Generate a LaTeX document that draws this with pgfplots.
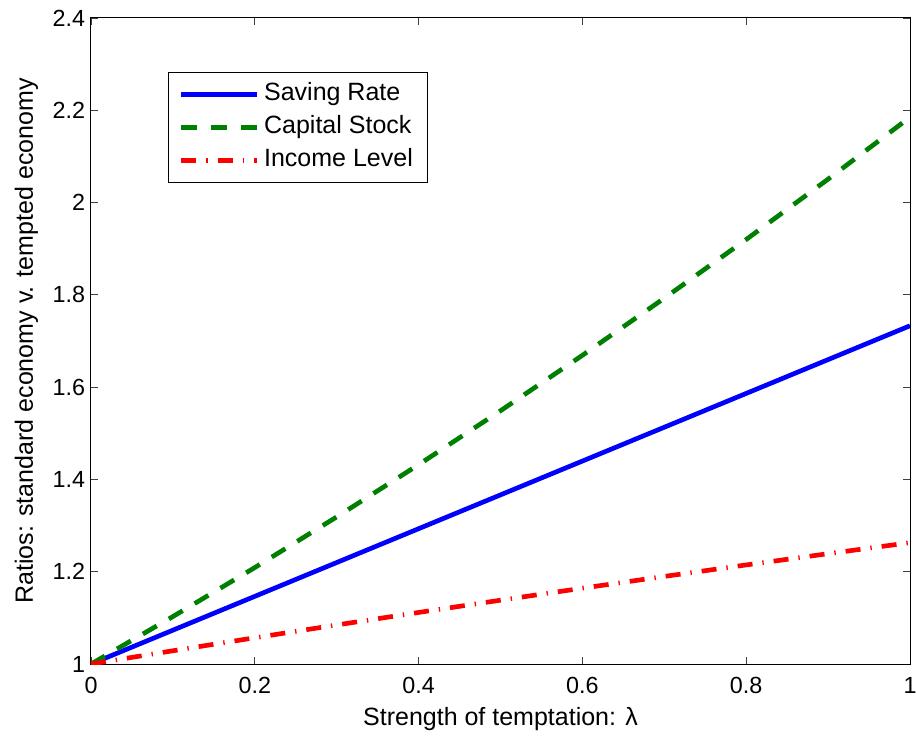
\documentclass[border=0pt]{standalone}
\usepackage{fontspec}
\setmainfont{Liberation Sans}
\usepackage{pgfplots}
\pgfplotsset{compat=1.18}
\definecolor{mblue}{RGB}{0,0,255}
\definecolor{mgreen}{RGB}{0,128,0}
\definecolor{mred}{RGB}{255,0,0}

\begin{document}
\begin{tikzpicture}
  \begin{axis}[
      scale only axis,
      width=491.4pt,
      height=387.6pt,
      xmin=0, xmax=1,
      ymin=1, ymax=2.4,
      xtick={0,0.2,0.4,0.6,0.8,1},
      ytick={1,1.2,1.4,1.6,1.8,2,2.2,2.4},
      tick align=inside,
      major tick length=4.2pt,
      tick style={black!75, line width=0.5pt},
      axis line style={black, line width=0.6pt},
      /pgf/number format/assume math mode=true,
      ticklabel style={font=\fontsize{14}{16.8}\selectfont},
      xticklabel style={yshift=-4.5pt},
      xlabel={Strength of temptation: λ},
      ylabel={Ratios: standard economy v. tempted economy},
      label style={font=\fontsize{15}{18}\selectfont},
      xlabel style={at={(axis description cs:0.5,0)}, anchor=base, yshift=-36.6pt},
      ylabel style={at={(axis description cs:0,0.5)}, anchor=base, yshift=34.8pt},
      legend style={
        at={(0.094,0.916)}, anchor=north west,
        draw=black, line width=0.6pt,
        font=\fontsize{15}{18}\selectfont,
        row sep=3.8pt,
        inner xsep=6.3pt, inner ysep=5pt,
        nodes={inner xsep=2.7pt, inner ysep=1pt, text height=10.8pt, text depth=3.2pt},
        cells={anchor=west},
      },
      legend image code/.code={
        \draw[#1] (0pt,0pt) -- (45.6pt,0pt);
      },
    ]
    \addplot[mblue, line width=2.8pt] coordinates {
      (0,1.0000) (0.1,1.0733) (0.2,1.1466) (0.3,1.2199) (0.4,1.2932)
      (0.5,1.3665) (0.6,1.4398) (0.7,1.5131) (0.8,1.5864) (0.9,1.6597)
      (1,1.7330)};
    \addlegendentry{Saving Rate}
    \addplot[mgreen, line width=2.8pt, dash pattern=on 9.6pt off 8.4pt] coordinates {
      (0,1.0000) (0.1,1.1028) (0.2,1.2090) (0.3,1.3188) (0.4,1.4320)
      (0.5,1.5488) (0.6,1.6690) (0.7,1.7928) (0.8,1.9200) (0.9,2.0508)
      (1,2.1850)};
    \addlegendentry{Capital Stock}
    \addplot[mred, line width=2.8pt, dash pattern=on 9pt off 6pt on 0.8pt off 6pt] coordinates {
      (0,1.0000) (0.1,1.0287) (0.2,1.0569) (0.3,1.0846) (0.4,1.1117)
      (0.5,1.1383) (0.6,1.1643) (0.7,1.1898) (0.8,1.2147) (0.9,1.2391)
      (1,1.2630)};
    \addlegendentry{Income Level}
  \end{axis}
  \pgfresetboundingbox
  \path ([xshift=-54.6pt,yshift=-43.2pt]current axis.south west)
    rectangle ([xshift=4.2pt,yshift=10.8pt]current axis.north east);
\end{tikzpicture}
\end{document}
